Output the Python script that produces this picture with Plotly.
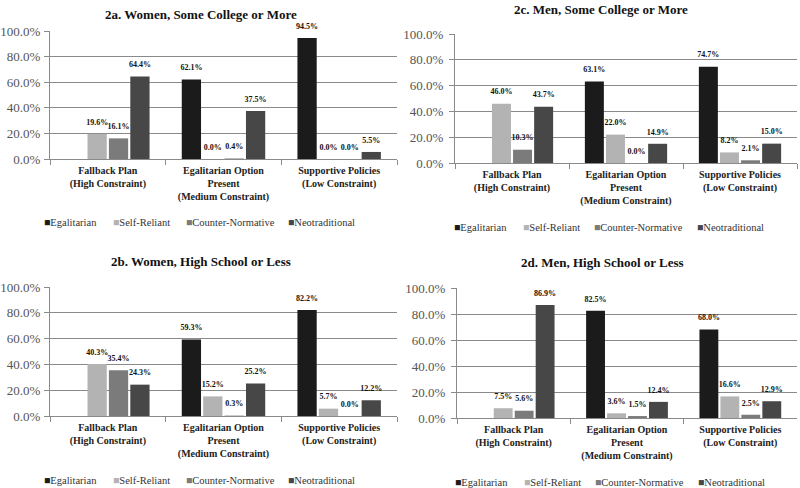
import plotly.graph_objects as go

categories = [
    "Fallback Plan<br>(High Constraint)",
    "Egalitarian Option<br>Present<br>(Medium Constraint)",
    "Supportive Policies<br>(Low Constraint)",
]
series_names = ["Egalitarian", "Self-Reliant", "Counter-Normative", "Neotraditional"]
series_colors = ["#1b1b1b", "#b3b3b3", "#7b7b7b", "#474747"]

panel_titles = [
    "2a. Women, Some College or More",
    "2c. Men, Some College or More",
    "2b. Women, High School or Less",
    "2d. Men, High School or Less",
]

women_college = {
    "Egalitarian": [None, 62.1, 94.5],
    "Self-Reliant": [19.6, 0.0, 0.0],
    "Counter-Normative": [16.1, 0.4, 0.0],
    "Neotraditional": [64.4, 37.5, 5.5],
}
men_college = {
    "Egalitarian": [None, 63.1, 74.7],
    "Self-Reliant": [46.0, 22.0, 8.2],
    "Counter-Normative": [10.3, 0.0, 2.1],
    "Neotraditional": [43.7, 14.9, 15.0],
}
women_hs = {
    "Egalitarian": [None, 59.3, 82.2],
    "Self-Reliant": [40.3, 15.2, 5.7],
    "Counter-Normative": [35.4, 0.3, 0.0],
    "Neotraditional": [24.3, 25.2, 12.2],
}
men_hs = {
    "Egalitarian": [None, 82.5, 68.0],
    "Self-Reliant": [7.5, 3.6, 16.6],
    "Counter-Normative": [5.6, 1.5, 2.5],
    "Neotraditional": [86.9, 12.4, 12.9],
}
panel_data = [women_college, men_college, women_hs, men_hs]

y_ticks = [0, 20, 40, 60, 80, 100]

W, H = 800, 488
def px_x(v):
    return v / W
def px_y(v):
    return 1 - v / H

panels = [
    dict(x0=50, x1=397, yt=31, yb=159, ty=15, ly=222, lx=42, so=1),
    dict(x0=455, x1=797, yt=34, yb=163, ty=10, ly=228, lx=452, so=3),
    dict(x0=50, x1=397, yt=287, yb=416, ty=261, ly=480, lx=42, so=1),
    dict(x0=457, x1=797, yt=288, yb=418, ty=262, ly=482, lx=453, so=3),
]
legend_offsets = [0, 69, 142, 244]
legend_offsets_right = [0, 69, 140, 243]

SERIF = "'Times New Roman', 'Liberation Serif', Times, serif"

fig = go.Figure()
layout = dict(
    width=W, height=H, autosize=False,
    margin=dict(l=0, r=0, t=0, b=0, pad=0),
    paper_bgcolor="white", plot_bgcolor="white",
    barmode="group", bargap=0.26, bargroupgap=0.1,
    scattermode="group", scattergap=0.26,
    showlegend=False,
    font=dict(family=SERIF, color="#333333"),
    annotations=[],
)

label_font = dict(family=SERIF, size=8, color="#111111", weight="bold")

for i, (pdata, p) in enumerate(zip(panel_data, panels)):
    idx = "" if i == 0 else str(i + 1)
    xa, ya = "x" + idx, "y" + idx
    for name, color in zip(series_names, series_colors):
        vals = pdata[name]
        fig.add_trace(go.Bar(
            x=categories, y=vals, name=name, xaxis=xa, yaxis=ya,
            marker=dict(color=color, line=dict(width=0)),
            hoverinfo="skip",
        ))
    # value labels, grouped like the bars
    for name in series_names:
        vals = pdata[name]
        fig.add_trace(go.Scatter(
            x=categories, y=vals, name=name + " label", xaxis=xa, yaxis=ya,
            mode="markers+text",
            marker=dict(size=10, color="rgba(0,0,0,0)"),
            text=[None if v is None else f"{v:.1f}%" for v in vals],
            textposition="top center", textfont=label_font,
            cliponaxis=False, hoverinfo="skip", showlegend=False,
        ))
    layout["xaxis" + idx] = dict(
        domain=[px_x(p["x0"]), px_x(p["x1"])], anchor=ya,
        showline=True, linecolor="#8a8a8a", linewidth=1,
        ticks="outside", tickson="boundaries", ticklen=5, tickcolor="#8a8a8a",
        tickfont=dict(family=SERIF, size=10, color="#222222", weight="bold"),
        ticklabelstandoff=2,
        showgrid=False, fixedrange=True, automargin=False,
    )
    layout["yaxis" + idx] = dict(
        domain=[px_y(p["yb"]), px_y(p["yt"])], anchor=xa,
        range=[0, 100], tickvals=y_ticks,
        ticktext=[f"{v:.1f}%" for v in y_ticks],
        showline=True, linecolor="#8a8a8a", linewidth=1,
        ticks="outside", ticklen=5, tickcolor="#8a8a8a",
        ticklabelstandoff=p["so"],
        showgrid=True, gridcolor="#8a8a8a", gridwidth=1, zeroline=False,
        tickfont=dict(family=SERIF, size=13, color="#555555"),
        fixedrange=True, automargin=False,
    )
    layout["annotations"].append(dict(
        text="<b>" + panel_titles[i] + "</b>", xref="paper", yref="paper",
        x=px_x((p["x0"] + p["x1"]) / 2 - (23 if i % 2 == 0 else 25)), y=px_y(p["ty"]),
        showarrow=False, xanchor="center", yanchor="middle",
        font=dict(family=SERIF, size=13, color="#111111"),
    ))
    offs = legend_offsets if i % 2 == 0 else legend_offsets_right
    for name, color, off in zip(series_names, series_colors, offs):
        layout["annotations"].append(dict(
            text=f"<span style='color:{color}'>■</span>{name}",
            xref="paper", yref="paper",
            x=px_x(p["lx"] + off), y=px_y(p["ly"]),
            showarrow=False, xanchor="left", yanchor="middle",
            font=dict(family=SERIF, size=10.5, color="#333333"),
        ))

fig.update_layout(**layout)
fig.write_html(
    "out.html",
    config={"displayModeBar": False, "staticPlot": True},
    post_script="document.body.style.margin='0';document.body.style.overflow='hidden';",
)
